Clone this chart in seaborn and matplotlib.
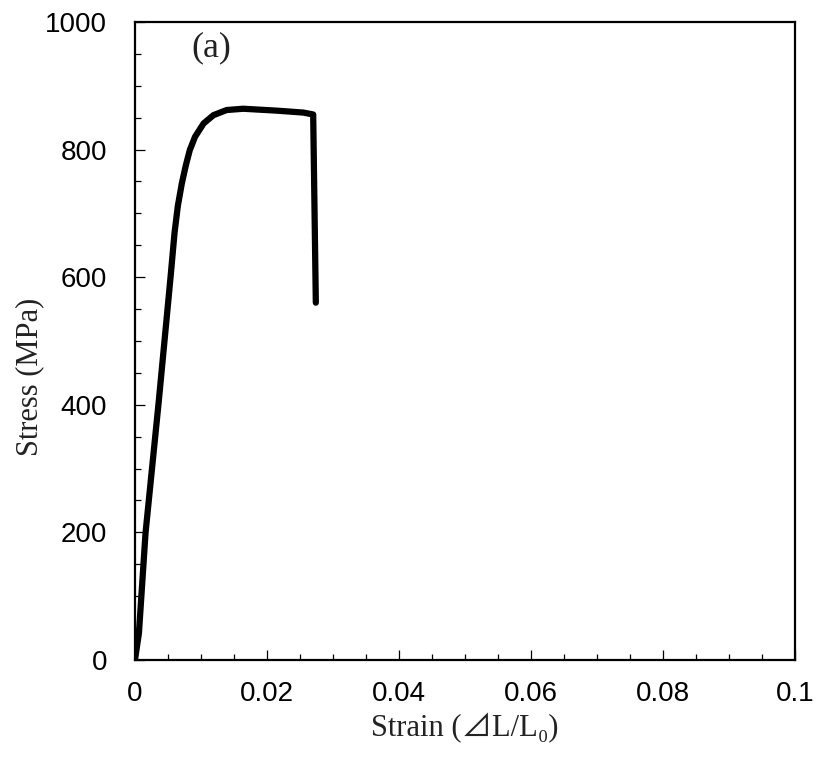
import numpy as np
import pandas as pd
import matplotlib
matplotlib.use('Agg')
import matplotlib.pyplot as plt
from matplotlib.ticker import MultipleLocator
import seaborn as sns

# 読み取った応力-ひずみ曲線
strain = [0, 0.0006, 0.0016, 0.0036, 0.0054, 0.0060, 0.0065, 0.0071, 0.0077,
          0.0083, 0.0091, 0.0104, 0.0119, 0.0139, 0.0164, 0.0215, 0.0255,
          0.0270, 0.0274]
stress = [0, 42, 199, 405, 601, 670, 712, 747, 775,
          799, 820, 841, 854, 862, 864, 861, 858,
          855, 560]

x_ticks = [0, 0.02, 0.04, 0.06, 0.08, 0.1]
x_tick_labels = ['0', '0.02', '0.04', '0.06', '0.08', '0.1']
y_ticks = [0, 200, 400, 600, 800, 1000]

df = pd.DataFrame({'strain': strain, 'stress': stress})

sns.set_theme(style='white')
serif = ['Liberation Serif', 'Noto Sans CJK JP', 'DejaVu Sans']
sans = ['Liberation Sans', 'DejaVu Sans']

fig = plt.figure(figsize=(8.16, 7.71), dpi=100)
ax = fig.add_axes([0.1654, 0.144, 0.8089, 0.8275])

sns.lineplot(data=df, x='strain', y='stress', sort=False, estimator=None,
             color='black', linewidth=4.5, ax=ax)
ax.lines[0].set_solid_joinstyle('round')
ax.lines[0].set_solid_capstyle('round')

ax.set_xlim(0, 0.1)
ax.set_ylim(0, 1000)
ax.set_xticks(x_ticks)
ax.set_xticklabels(x_tick_labels)
ax.set_yticks(y_ticks)
ax.xaxis.set_minor_locator(MultipleLocator(0.005))
ax.yaxis.set_minor_locator(MultipleLocator(50))

ax.tick_params(which='both', direction='in', bottom=True, left=True,
               top=False, right=False, colors='black', width=0.9)
ax.tick_params(which='major', length=7)
ax.tick_params(which='minor', length=4.5)
ax.tick_params(axis='x', which='major', pad=15, labelsize=20)
ax.tick_params(axis='y', which='major', pad=20, labelsize=20)
for lab in ax.get_xticklabels() + ax.get_yticklabels():
    lab.set_family(sans)

for sp in ax.spines.values():
    sp.set_color('black')
    sp.set_linewidth(1.6)

ax.set_xlabel('Strain (⊿L/L₀)', family=serif, fontsize=22, color='#222222')
ax.set_ylabel('Stress (MPa)', family=serif, fontsize=22, color='#222222')
ax.xaxis.set_label_coords(0.5, -0.083)
ax.yaxis.set_label_coords(-0.137, 0.444)

ax.text(0.0115, 960, '(a)', family=serif, fontsize=26, ha='center',
        va='center', color='#222222')

fig.savefig('out.png', dpi=100, facecolor='white')
